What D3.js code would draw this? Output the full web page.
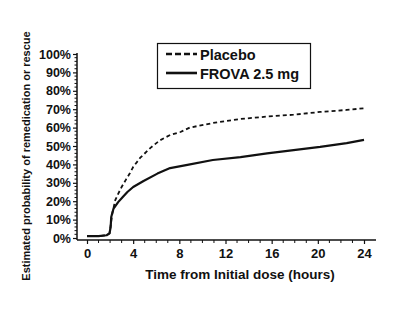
<!DOCTYPE html>
<html>
<head>
<meta charset="utf-8">
<script src="https://cdn.jsdelivr.net/npm/d3@7"></script>
<style>
  html, body { margin: 0; padding: 0; background: #fff; }
  svg { display: block; }
  text { font-family: "Liberation Sans", Arial, sans-serif; font-weight: bold; fill: #111; }
</style>
</head>
<body>
<svg id="chart" width="400" height="309"></svg>
<script>
// Time points (hours) and estimated cumulative probability (%)
const placeboTime   = [0, 1.0, 1.7, 1.95, 2.05, 2.2, 2.45, 2.7, 3.0, 3.4, 3.7, 4.0, 4.6, 5.5, 6.3, 7.2, 8.1, 8.9, 10.9, 13.3, 15.6, 17.9, 20.2, 22.5, 24];
const placeboValues = [1, 1, 1.5, 2.5, 7, 13.6, 20.6, 24, 27.7, 32, 35, 38.6, 43.5, 49, 53, 56, 57.6, 60, 62.5, 64.7, 66, 67, 68.5, 69.6, 70.5];
const frovaTime     = [0, 1.0, 1.7, 1.95, 2.05, 2.1, 2.3, 2.7, 3.1, 3.5, 4.0, 4.9, 6.1, 7.2, 8.7, 10.9, 13.3, 15.6, 17.9, 20.2, 22.5, 24];
const frovaValues   = [1, 1, 1.5, 2.5, 6, 11.4, 16, 19.5, 22.3, 25, 27.7, 31, 35, 38, 39.7, 42.4, 44, 46, 47.8, 49.5, 51.6, 53.3];
const xTickValues   = [0, 4, 8, 12, 16, 20, 24];
const yTickValues   = [0, 10, 20, 30, 40, 50, 60, 70, 80, 90, 100];
const seriesNames   = ["Placebo", "FROVA 2.5 mg"];

const svg = d3.select("#chart");
const x = d3.scaleLinear().domain([0, 24]).range([87, 364]);
const y = d3.scaleLinear().domain([0, 100]).range([238, 54]);
const axisX0 = 77, axisY0 = 240;

// Y axis
const yAxis = d3.axisLeft(y).tickValues(yTickValues).tickFormat(d => d + "%").tickSize(4).tickPadding(2);
const gy = svg.append("g").attr("transform", `translate(${axisX0},0)`).call(yAxis);
gy.select(".domain").remove();
gy.append("line").attr("x1", 0).attr("x2", 0).attr("y1", y(100) - 1).attr("y2", axisY0).attr("stroke", "#111").attr("stroke-width", 1.5);
gy.selectAll(".tick line").attr("stroke", "#111").attr("stroke-width", 1.2);
gy.selectAll(".tick text").style("font-size", "12.5px").style("font-weight", "bold").attr("fill", "#111").attr("font-family", "Liberation Sans, Arial, sans-serif");
// minor ticks every 2%
svg.append("g").selectAll("line").data(d3.range(0, 101, 2).filter(v => v % 10 !== 0)).join("line")
  .attr("x1", axisX0 - 2.5).attr("x2", axisX0).attr("y1", d => y(d)).attr("y2", d => y(d))
  .attr("stroke", "#111").attr("stroke-width", 1);

// X axis
const xAxis = d3.axisBottom(x).tickValues(xTickValues).tickFormat(d3.format("d")).tickSize(4).tickPadding(5);
const gx = svg.append("g").attr("transform", `translate(0,${axisY0})`).call(xAxis);
gx.select(".domain").remove();
gx.append("line").attr("x1", axisX0).attr("x2", 376).attr("y1", 0).attr("y2", 0).attr("stroke", "#111").attr("stroke-width", 1.5);
gx.selectAll(".tick line").attr("stroke", "#111").attr("stroke-width", 1.2);
gx.selectAll(".tick text").style("font-size", "13px").style("font-weight", "bold").attr("fill", "#111").attr("font-family", "Liberation Sans, Arial, sans-serif");
svg.append("g").selectAll("line").data(d3.range(1, 25).filter(v => v % 4 !== 0)).join("line")
  .attr("x1", d => x(d)).attr("x2", d => x(d)).attr("y1", axisY0).attr("y2", axisY0 + 3)
  .attr("stroke", "#111").attr("stroke-width", 1);

// Axis titles
svg.append("text").attr("x", 240).attr("y", 279).attr("text-anchor", "middle")
  .style("font-size", "13.5px").text("Time from Initial dose (hours)");
svg.append("text").attr("transform", "translate(30,156) rotate(-90)").attr("text-anchor", "middle")
  .style("font-size", "11px").text("Estimated probability of remedication or rescue");

// Lines
const line = d3.line().x(d => x(d[0])).y(d => y(d[1])).curve(d3.curveLinear);
const placeboData = placeboTime.map((t, i) => [t, placeboValues[i]]);
const frovaData = frovaTime.map((t, i) => [t, frovaValues[i]]);
svg.append("path").datum(frovaData).attr("d", line).attr("fill", "none").attr("stroke", "#111").attr("stroke-width", 2.2).attr("stroke-linejoin", "round");
svg.append("path").datum(placeboData).attr("d", line).attr("fill", "none").attr("stroke", "#111").attr("stroke-width", 1.8).attr("stroke-dasharray", "4,3");

// Legend
const lg = svg.append("g");
lg.append("rect").attr("x", 157.5).attr("y", 43.5).attr("width", 153).attr("height", 45).attr("fill", "#fff").attr("stroke", "#111").attr("stroke-width", 1.2);
const rows = [{name: seriesNames[0], dash: "6,3", w: 2.4, yy: 54}, {name: seriesNames[1], dash: null, w: 2.6, yy: 73}];
rows.forEach(r => {
  lg.append("line").attr("x1", 166).attr("x2", 197).attr("y1", r.yy).attr("y2", r.yy)
    .attr("stroke", "#111").attr("stroke-width", r.w).attr("stroke-dasharray", r.dash);
  lg.append("text").attr("x", 200).attr("y", r.yy + 5.5).style("font-size", "14.5px").text(r.name);
});
</script>
</body>
</html>
